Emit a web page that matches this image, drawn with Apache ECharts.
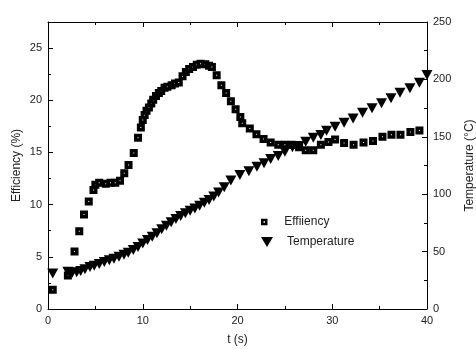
<!DOCTYPE html>
<html><head><meta charset="utf-8">
<script src="https://cdn.jsdelivr.net/npm/echarts@6/dist/echarts.min.js"></script>
<style>html,body{margin:0;padding:0;background:#fff}#c{width:476px;height:349px}</style>
</head><body><div id="c"></div>
<script>
var tEff = [0.5, 2.1, 2.8, 3.3, 3.8, 4.3, 4.8, 5.0, 5.4, 6.1, 6.6, 7.1, 7.6, 8.05, 8.5, 9.05, 9.5, 9.8, 10.0, 10.2, 10.4, 10.65, 10.9, 11.1, 11.4, 11.7, 11.95, 12.3, 12.6, 13.05, 13.4, 13.8, 14.2, 14.55, 14.9, 15.3, 15.7, 16.1, 16.6, 17.0, 17.3, 17.8, 18.3, 18.8, 19.3, 19.8, 20.3, 20.5, 21.3, 22.0, 22.75, 23.5, 24.3, 25.0, 25.7, 26.5, 27.2, 28.0, 28.8, 29.6, 30.3, 31.25, 32.25, 33.3, 34.3, 35.3, 36.25, 37.2, 38.25, 39.2];
var efficiency = [1.85, 3.2, 5.5, 7.45, 9.05, 10.3, 11.4, 11.9, 12.1, 12.0, 12.1, 12.1, 12.3, 13.0, 13.8, 14.95, 16.4, 17.4, 18.1, 18.6, 19.0, 19.3, 19.7, 20.05, 20.4, 20.7, 20.9, 21.2, 21.3, 21.45, 21.6, 21.7, 22.3, 22.7, 23.0, 23.2, 23.4, 23.5, 23.45, 23.3, 23.2, 22.4, 21.45, 20.7, 19.9, 19.15, 18.4, 17.8, 17.3, 16.75, 16.3, 15.95, 15.75, 15.75, 15.75, 15.5, 15.2, 15.2, 15.75, 16.0, 16.25, 15.9, 15.75, 15.95, 16.1, 16.5, 16.7, 16.7, 16.95, 17.1];
var tTemp = [0.5, 2.1, 2.56, 3.03, 3.45, 3.9, 4.43, 4.88, 5.41, 5.94, 6.47, 6.96, 7.49, 8.02, 8.47, 9.0, 9.5, 10.0, 10.5, 11.0, 11.5, 12.0, 12.5, 13.0, 13.5, 14.0, 14.5, 15.0, 15.5, 16.0, 16.5, 17.0, 17.5, 18.0, 18.6, 19.3, 20.25, 21.2, 22.05, 22.8, 23.5, 24.3, 25.0, 25.8, 26.5, 27.2, 28.0, 28.8, 29.4, 30.3, 31.25, 32.2, 33.2, 34.2, 35.2, 36.2, 37.15, 38.2, 39.2, 40.0];
var temperature = [31, 32.5, 31.6, 32, 33.1, 34.6, 36.6, 37.7, 39.2, 40.9, 42.4, 43.8, 45.5, 47.3, 49, 51.5, 54, 57, 60, 63, 66, 69.5, 72.5, 75.5, 78.5, 81, 83.5, 85.5, 87.5, 90, 92.5, 95, 98, 101.5, 106, 112, 116.7, 120, 124, 127, 130.7, 133.3, 137, 140.8, 142, 145.7, 149.2, 151.6, 155.3, 158.8, 162.3, 166, 171, 174.8, 179.2, 183.5, 188.4, 192.2, 197, 203.8];
var xTicks = [0, 10, 20, 30, 40];
var effTicks = [0, 5, 10, 15, 20, 25];
var tempTicks = [0, 50, 100, 150, 200, 250];
var seriesNames = ['Effiiency', 'Temperature'];
var axisTitles = {x: 't (s)', yLeft: 'Efficiency (%)', yRight: 'Temperature (\u00B0C)'};

var FONT = '"Liberation Sans", Arial, sans-serif';
var lineStyle = {color: '#000', width: 1};
function zip(a, b) { return a.map(function (v, i) { return [v, b[i]]; }); }

var chart = echarts.init(document.getElementById('c'), null, {renderer: 'canvas'});
chart.setOption({
  animation: false,
  backgroundColor: '#fff',
  grid: {left: 48, right: 49, top: 22, bottom: 40, containLabel: false, outerBoundsMode: 'none'},
  xAxis: [{
    type: 'value', position: 'bottom', min: 0, max: 40, interval: 10,
    name: axisTitles.x, nameLocation: 'middle', nameGap: 25, nameMoveOverlap: false,
    nameTextStyle: {color: '#222', fontSize: 12, fontFamily: FONT},
    axisLine: {show: true, onZero: false, lineStyle: lineStyle},
    axisTick: {show: true, inside: true, length: 5, lineStyle: lineStyle},
    minorTick: {show: true, splitNumber: 2, length: 3, lineStyle: lineStyle},
    splitLine: {show: false},
    axisLabel: {margin: 6, color: '#222', fontSize: 11, fontFamily: FONT,
      formatter: function (v) { return xTicks.indexOf(v) >= 0 ? String(v) : ''; }}
  }, {
    type: 'value', position: 'top', min: 0, max: 40, interval: 10,
    axisLine: {show: true, onZero: false, lineStyle: lineStyle},
    axisTick: {show: true, inside: true, length: 5, lineStyle: lineStyle},
    minorTick: {show: true, splitNumber: 2, length: 3, lineStyle: lineStyle},
    splitLine: {show: false}, axisLabel: {show: false}
  }],
  yAxis: [{
    type: 'value', position: 'left', min: 0, max: 27.5, interval: 5,
    name: axisTitles.yLeft, nameLocation: 'middle', nameGap: 25, nameRotate: 90, nameMoveOverlap: false,
    nameTextStyle: {color: '#222', fontSize: 12, fontFamily: FONT},
    axisLine: {show: true, onZero: false, lineStyle: lineStyle},
    axisTick: {show: true, inside: true, length: 5, lineStyle: lineStyle},
    minorTick: {show: true, splitNumber: 2, length: 3, lineStyle: lineStyle},
    splitLine: {show: false},
    axisLabel: {margin: 6, color: '#222', fontSize: 11, fontFamily: FONT, showMaxLabel: false,
      formatter: function (v) { return effTicks.indexOf(v) >= 0 ? String(v) : ''; }}
  }, {
    type: 'value', position: 'right', min: 0, max: 250, interval: 50,
    name: axisTitles.yRight, nameLocation: 'middle', nameGap: 37, nameRotate: 90, nameMoveOverlap: false,
    nameTextStyle: {color: '#222', fontSize: 12, fontFamily: FONT},
    axisLine: {show: true, onZero: false, lineStyle: lineStyle},
    axisTick: {show: true, inside: true, length: 5, lineStyle: lineStyle},
    minorTick: {show: true, splitNumber: 2, length: 3, lineStyle: lineStyle},
    splitLine: {show: false},
    axisLabel: {margin: 6, color: '#222', fontSize: 11, fontFamily: FONT,
      formatter: function (v) { return tempTicks.indexOf(v) >= 0 ? String(v) : ''; }}
  }],
  legend: [{
    data: [{name: seriesNames[0], icon: 'path://M0,0H10V10H0Z',
      itemStyle: {color: '#fff', borderColor: '#000', borderWidth: 2.5}}],
    orient: 'vertical', left: 261, top: 216, itemWidth: 30, itemHeight: 4,
    padding: 0, textStyle: {color: '#222', fontSize: 12, fontFamily: FONT}
  }, {
    data: [{name: seriesNames[1], icon: 'path://M0,0L12,0L6,10Z'}],
    orient: 'vertical', left: 261, top: 236, itemWidth: 30, itemHeight: 10,
    padding: 0, textStyle: {color: '#222', fontSize: 12, fontFamily: FONT}
  }],
  series: [{
    name: seriesNames[0], type: 'scatter', xAxisIndex: 0, yAxisIndex: 0,
    symbol: 'rect', symbolSize: 4.5,
    itemStyle: {color: '#fff', borderColor: '#000', borderWidth: 3.5, opacity: 1},
    data: zip(tEff, efficiency)
  }, {
    name: seriesNames[1], type: 'scatter', xAxisIndex: 0, yAxisIndex: 1,
    symbol: 'triangle', symbolRotate: 180, symbolSize: [11, 10],
    itemStyle: {color: '#000', opacity: 1},
    data: zip(tTemp, temperature)
  }]
});
</script>
</body></html>
